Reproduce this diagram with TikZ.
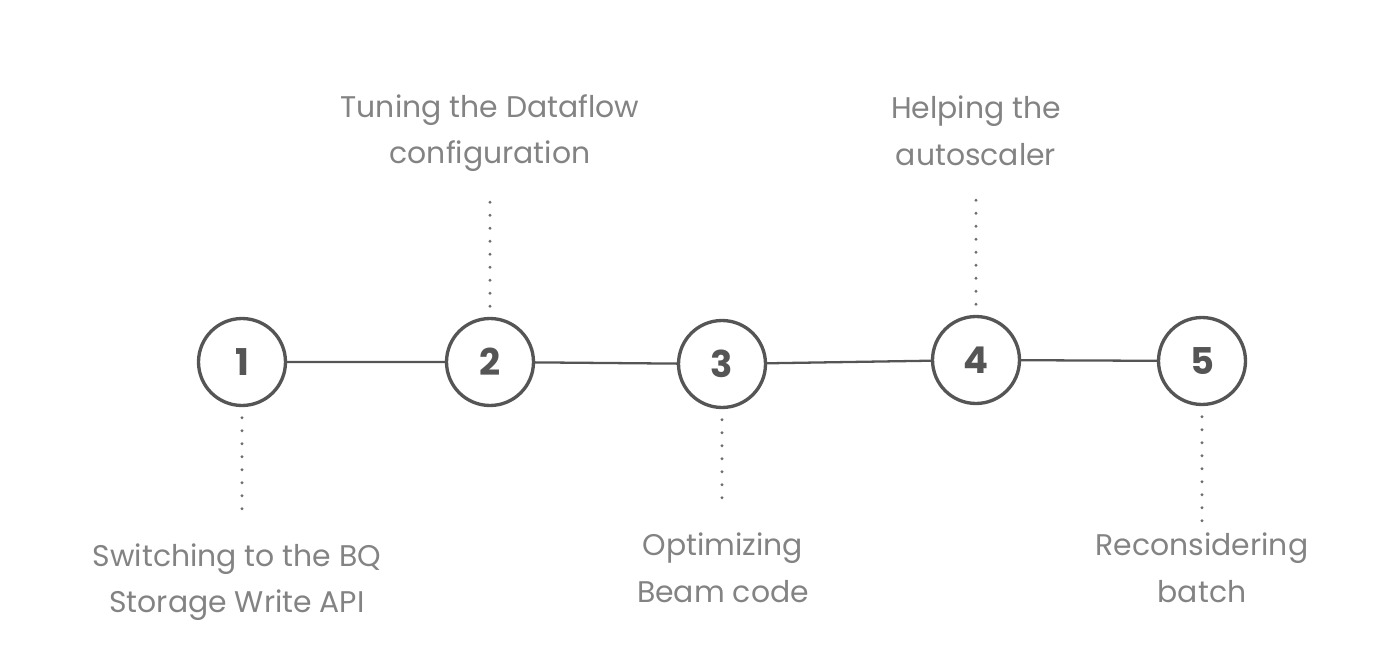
\documentclass[tikz,border=0pt]{standalone}
\usepackage{fontspec}
\setmainfont{Poppins}
\usetikzlibrary{positioning}
\definecolor{ringgray}{HTML}{555555}
\definecolor{textgray}{HTML}{838383}
\definecolor{dotgray}{HTML}{6E6E6E}

\begin{document}
\begin{tikzpicture}[x=0.02cm, y=-0.02cm,
    stage/.style={circle, draw=ringgray, line width=1.9pt, minimum size=1.74cm,
      inner sep=0pt, text=ringgray, font=\fontsize{21}{24}\selectfont\bfseries},
    caption/.style={align=center, text=textgray, font=\fontsize{17}{26.5}\selectfont},
    leader/.style={dotgray, line width=1.9pt, line cap=round, dash pattern=on 0pt off 7.4pt}]
  \useasboundingbox (0,0) rectangle (1392,655);

  % the five stages
  \node[stage] (s1) at (242,362) {1};
  \node[stage] (s2) at (490,362) {2};
  \node[stage] (s3) at (722,364) {3};
  \node[stage] (s4) at (976,360) {4};
  \node[stage] (s5) at (1202,361) {5};
  \draw[ringgray, line width=1.3pt] (s1) -- (s2) -- (s3) -- (s4) -- (s5);

  % captions
  \node[caption] (t1) at (237,582) {Switching to the BQ\\Storage Write API};
  \node[caption] (t2) at (490,133) {Tuning the Dataflow\\configuration};
  \node[caption] (t3) at (723,568) {Optimizing\\Beam code};
  \node[caption] (t4) at (976,131) {Helping the\\autoscaler};
  \node[caption] (t5) at (1202,568) {Reconsidering\\batch};

  % dotted leaders
  \coordinate (d1) at (242,515);
  \coordinate (d2) at (490,199);
  \coordinate (d3) at (722,508);
  \coordinate (d4) at (976,199);
  \coordinate (d5) at (1202,521);
  \foreach \i in {1,...,5}
    \draw[leader, shorten <=6pt] (s\i) -- (d\i);
\end{tikzpicture}
\end{document}
